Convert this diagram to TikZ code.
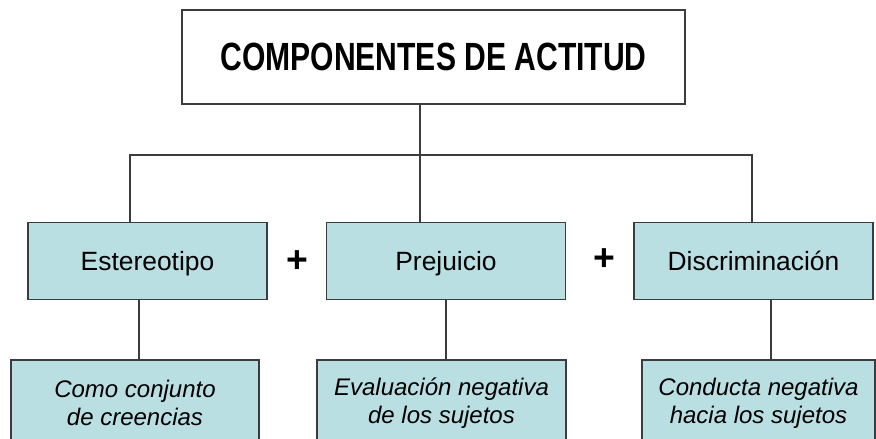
\documentclass[tikz,border=0pt]{standalone}
\usepackage{fontspec}
\setmainfont{Liberation Sans}
\usepackage{tikz}
\usetikzlibrary{positioning}
\definecolor{celeste}{RGB}{185,223,227}
\definecolor{borde}{RGB}{60,60,60}
\tikzset{
  caja/.style={
      rectangle,
      inner sep=0pt,
      line width=1.1pt,
      draw=borde
  },
  titulo/.style={
      caja,
      fill=white,
      minimum width=377.25pt,
      minimum height=70.5pt,
      font=\bfseries\fontsize{29.5}{32}\selectfont
  },
  concepto/.style={
      caja,
      fill=celeste,
      minimum width=179.25pt,
      minimum height=57.75pt,
      text height=14.2pt,
      text depth=0pt,
      font=\fontsize{19.8}{22}\selectfont
  },
  definicion/.style={
      caja,
      fill=celeste,
      align=center,
      minimum height=64.5pt,
      font=\itshape\fontsize{18}{21}\selectfont
  },
  mas/.style={
      inner sep=0pt,
      font=\bfseries\fontsize{28}{28}\selectfont
  },
  enlace/.style={line width=1.1pt, draw=borde}
}

\begin{document}
\begin{tikzpicture}[x=0.75pt,y=-0.75pt]
    \useasboundingbox (0,0) rectangle (876,439);
    \clip (0,0) rectangle (876,439);
    % titulo
    \node[titulo] (actitud) at (433.5,57) {\scalebox{0.765}[1]{COMPONENTES DE ACTITUD}};
    % componentes
    \node[concepto] (ester) at (147.5,261) {Estereotipo};
    \node[concepto] (prej) at (446,261) {Prejuicio};
    \node[concepto] (discr) at (753.5,261) {Discriminación};
    \node[mas] (mas1) at (297,262) {+};
    \node[mas] (mas2) at (604,260) {+};
    % definiciones
    \node[definicion,minimum width=186pt] (creen) at (135,403) {Como conjunto\\de creencias};
    \node[definicion,minimum width=186.75pt] (evalu) at (441.5,403) {Evaluación negativa\\de los sujetos};
    \node[definicion,minimum width=174.75pt] (conduc) at (758.5,403) {Conducta negativa\\hacia los sujetos};
    % puntos de enlace
    \coordinate (r1) at (130,155);
    \coordinate (r2) at (420,155);
    \coordinate (r3) at (752,155);
    \coordinate (b1) at (139,0);
    \coordinate (b2) at (446,0);
    \coordinate (b3) at (771,0);
    \draw[enlace] (actitud.south -| r2) -- (r2);
    \draw[enlace] (ester.north -| r1) -- (r1) -- (r3) -- (discr.north -| r3);
    \draw[enlace] (r2) -- (prej.north -| r2);
    \draw[enlace] (ester.south -| b1) -- (creen.north -| b1);
    \draw[enlace] (prej.south -| b2) -- (evalu.north -| b2);
    \draw[enlace] (discr.south -| b3) -- (conduc.north -| b3);
\end{tikzpicture}
\end{document}
